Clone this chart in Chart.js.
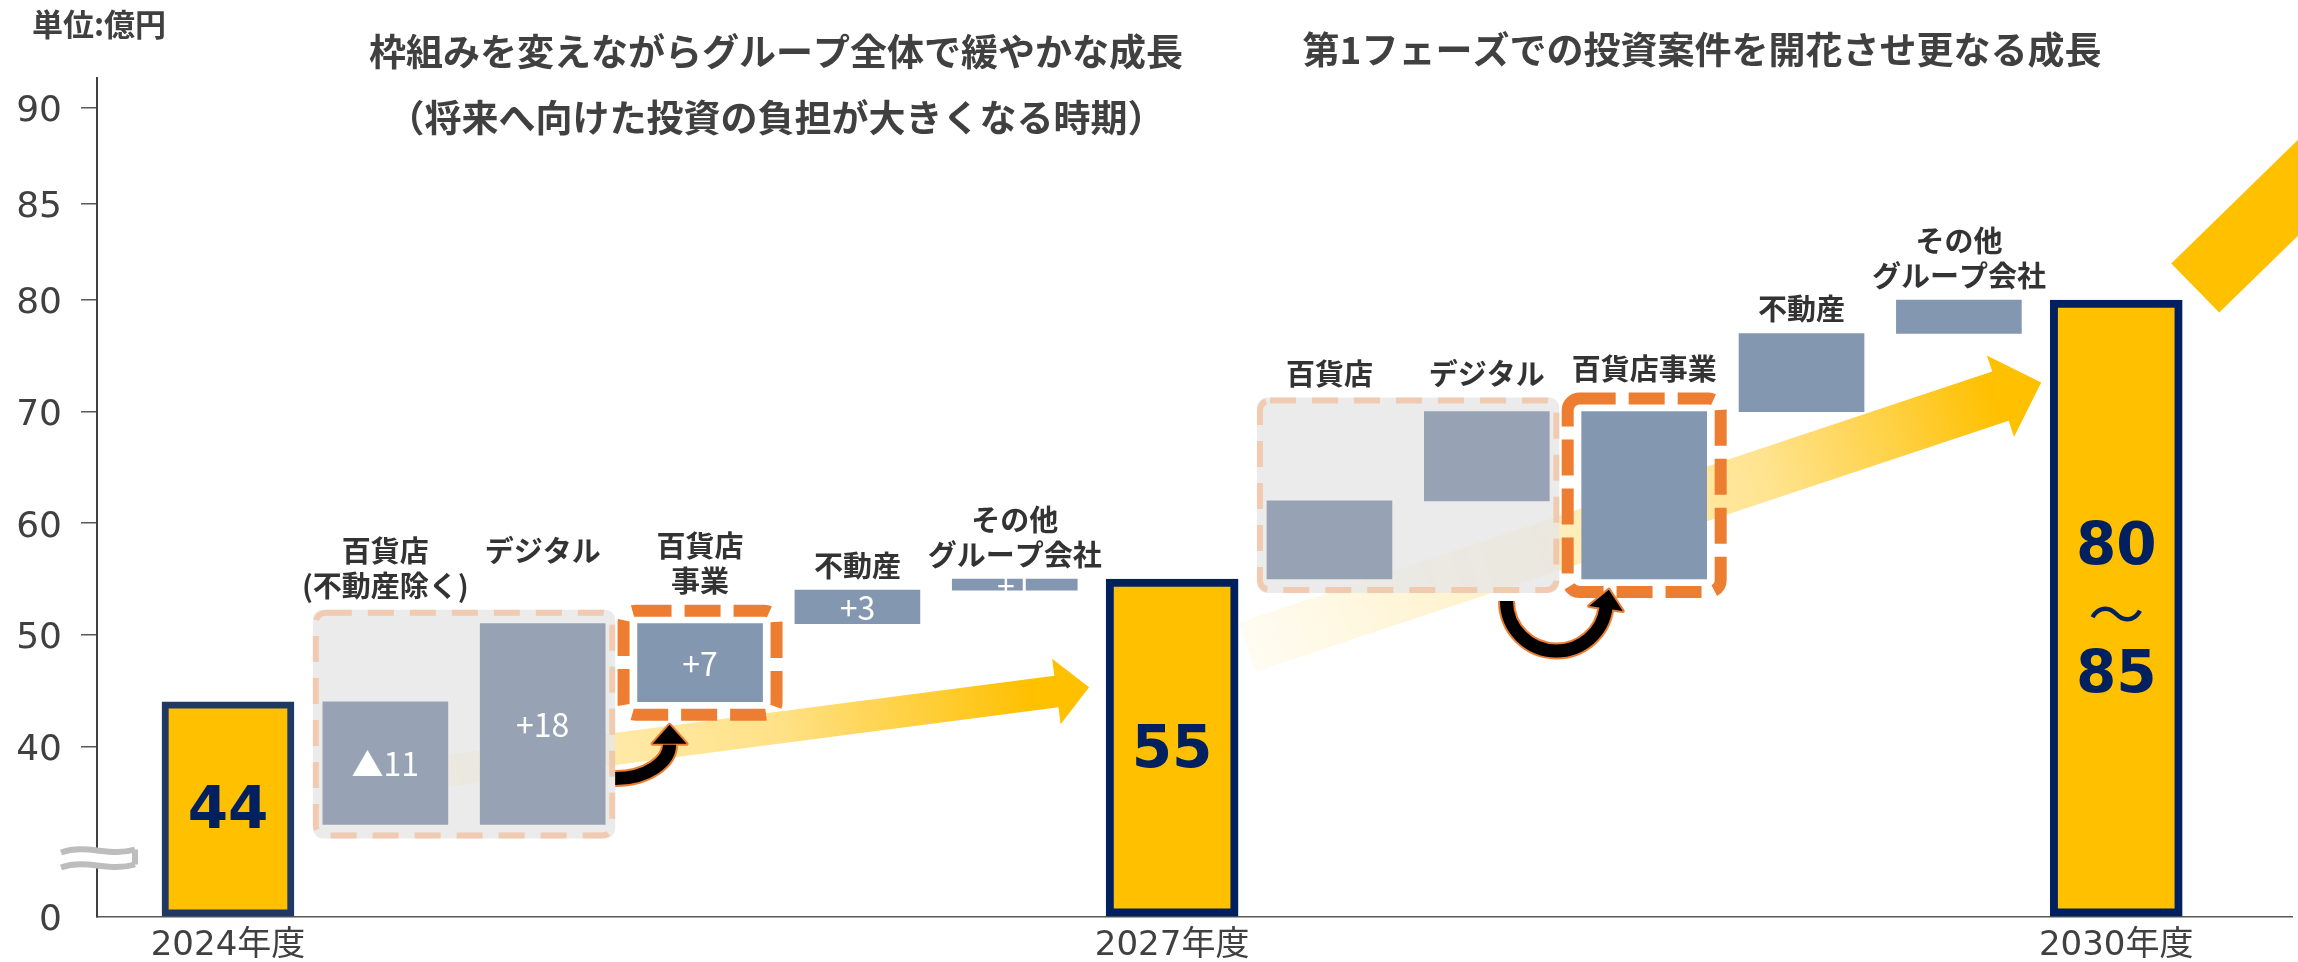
<!DOCTYPE html>
<html lang="ja">
<head>
<meta charset="utf-8">
<title>営業利益の成長イメージ</title>
<script src="https://cdn.jsdelivr.net/npm/chart.js@4.4.1/dist/chart.umd.min.js"></script>
<style>
  html, body { margin: 0; padding: 0; background: #ffffff; }
  #wrap { width: 2298px; height: 962px; }
  canvas { display: block; }
</style>
</head>
<body>
<div id="wrap"><canvas id="chart" width="2298" height="962"></canvas></div>
<script>
// ---------------- data (億円) ----------------
const YEARS = ['2024年度', '2027年度', '2030年度'];
const TOTALS = [44, 55, 80];
const TOTAL_LABELS = ['44', '55', '80～85'];

// 2024 → 2027
const PHASE1_NAMES = [['百貨店', '(不動産除く)'], ['デジタル'], ['百貨店', '事業'], ['不動産'], ['その他', 'グループ会社']];
const PHASE1_DEPT = [-11, 18];   // 百貨店(不動産除く), デジタル → 百貨店事業
const PHASE1_OTHER = [3, 1];     // 不動産, その他グループ会社

// 2027 → 2030
const PHASE2_NAMES = [['百貨店'], ['デジタル'], ['百貨店事業'], ['不動産'], ['その他', 'グループ会社']];
const PHASE2_DEPT = [7, 8];
const PHASE2_OTHER = [7, 3];

const Y_TICKS = [0, 40, 50, 60, 70, 80, 85, 90];

const TITLE_1 = ['枠組みを変えながらグループ全体で緩やかな成長', '（将来へ向けた投資の負担が大きくなる時期）'];
const TITLE_2 = ['第1フェーズでの投資案件を開花させ更なる成長'];
const UNIT = '単位:億円';

// ---------------- layout & style ----------------
const LAYOUT = {
  chartTop: 78, axisWidth: 97, xAxisHeight: 45, rightPad: 6,
  xMin: -0.8325, xMax: 13.117,
  totalBar: 132, stepBar: 125,
  titleX: [776, 1702], titleY: [[52, 118], [50]],
  labelGap: 24, lineH: 35
};
// broken value axis: [from, to, relative height]
const Y_SEGMENTS = [[0, 30, 59], [30, 80, 558], [80, 85, 96], [85, 90, 96], [90, 91.56, 30]];

const ORANGE = '#ED7D31';
const YELLOW = '#FFC000';
const NAVY = '#002060';
const TEXT = '#404040';
const JP = "'Noto Sans CJK JP', 'Noto Sans', sans-serif";
const NUM = "'DejaVu Sans', 'Noto Sans CJK JP', sans-serif";

// ---------------- waterfall construction ----------------
const PHASES = [
  { dept: PHASE1_DEPT, other: PHASE1_OTHER, names: PHASE1_NAMES, showValues: true },
  { dept: PHASE2_DEPT, other: PHASE2_OTHER, names: PHASE2_NAMES, showValues: false }
];
const totalPos = [];
const phaseSteps = [];
const allSteps = [];
let pos = 0;
TOTALS.forEach((total, k) => {
  totalPos.push(pos++);
  const ph = PHASES[k];
  if (!ph) return;
  const steps = [];
  let level = total;
  ph.dept.forEach((d, i) => {
    steps.push({ kind: 'part', from: level, to: level + d, delta: d, names: ph.names[i] });
    level += d;
  });
  const sub = ph.dept.reduce((a, b) => a + b, 0);
  steps.push({ kind: 'sub', from: total, to: total + sub, delta: sub, names: ph.names[ph.dept.length] });
  level = total + sub;
  ph.other.forEach((d, i) => {
    steps.push({ kind: 'other', from: level, to: level + d, delta: d, names: ph.names[ph.dept.length + 1 + i] });
    level += d;
  });
  steps.forEach(s => { s.x = pos++; s.order = allSteps.length; s.showValue = ph.showValues; allSteps.push(s); });
  phaseSteps.push(steps);
});

// ---------------- broken linear scale ----------------
class BrokenLinearScale extends Chart.LinearScale {
  static id = 'brokenLinear';
  _total() { return Y_SEGMENTS.reduce((s, g) => s + g[2], 0); }
  getPixelForValue(value) {
    if (value === null || value === undefined || isNaN(value)) return NaN;
    const total = this._total();
    let acc = 0, frac = 0;
    for (let i = 0; i < Y_SEGMENTS.length; i++) {
      const [lo, hi, w] = Y_SEGMENTS[i];
      if (value <= hi || i === Y_SEGMENTS.length - 1) { frac = (acc + w * (value - lo) / (hi - lo)) / total; break; }
      acc += w;
    }
    return this.bottom - frac * (this.bottom - this.top);
  }
  getValueForPixel(pixel) {
    let f = (this.bottom - pixel) / (this.bottom - this.top) * this._total();
    for (let i = 0; i < Y_SEGMENTS.length; i++) {
      const [lo, hi, w] = Y_SEGMENTS[i];
      if (f <= w || i === Y_SEGMENTS.length - 1) return lo + (hi - lo) * f / w;
      f -= w;
    }
  }
}
Chart.register(BrokenLinearScale);

// ---------------- drawing helpers ----------------
function rectOf(el) {
  const p = el.getProps(['x', 'y', 'base', 'width'], true);
  return { l: p.x - p.width / 2, r: p.x + p.width / 2, t: Math.min(p.y, p.base), b: Math.max(p.y, p.base), cx: p.x };
}
function union(rs, px, py) {
  return {
    l: Math.min(...rs.map(r => r.l)) - px, r: Math.max(...rs.map(r => r.r)) + px,
    t: Math.min(...rs.map(r => r.t)) - py, b: Math.max(...rs.map(r => r.b)) + py
  };
}
function geometry(chart) {
  const totals = chart.getDatasetMeta(0).data.map(rectOf);
  const stepRects = chart.getDatasetMeta(1).data.map(rectOf);
  const groups = phaseSteps.map(list => {
    const items = list.map(s => ({ s, rect: stepRects[s.order] }));
    const parts = items.filter(i => i.s.kind === 'part');
    const sub = items.find(i => i.s.kind === 'sub');
    return { items, parts, sub, peach: union(parts.map(p => p.rect), 10, 14), orange: union([sub.rect], 20, 19) };
  });
  return { totals, stepRects, groups };
}
function box(ctx, b, lw, stroke, dash, radius, fill) {
  ctx.save();
  ctx.beginPath();
  ctx.roundRect(b.l + lw / 2, b.t + lw / 2, b.r - b.l - lw, b.b - b.t - lw, radius);
  if (fill) { ctx.fillStyle = fill; ctx.fill(); }
  if (stroke) { ctx.setLineDash(dash); ctx.lineWidth = lw; ctx.strokeStyle = stroke; ctx.stroke(); }
  ctx.restore();
}
function gradientArrow(ctx, a, half, headHalf, headLen, stops) {
  const dx = a.x1 - a.x0, dy = a.y1 - a.y0, L = Math.hypot(dx, dy);
  const ux = dx / L, uy = dy / L, px = -uy, py = ux;
  const bx = a.x1 - ux * headLen, by = a.y1 - uy * headLen;
  const grad = ctx.createLinearGradient(a.x0, a.y0, a.x1, a.y1);
  stops.forEach(([t, al]) => grad.addColorStop(t, `rgba(255,192,0,${al})`));
  ctx.save();
  ctx.beginPath();
  ctx.moveTo(a.x0 + px * half, a.y0 + py * half);
  ctx.lineTo(bx + px * half, by + py * half);
  ctx.lineTo(bx + px * headHalf, by + py * headHalf);
  ctx.lineTo(a.x1, a.y1);
  ctx.lineTo(bx - px * headHalf, by - py * headHalf);
  ctx.lineTo(bx - px * half, by - py * half);
  ctx.lineTo(a.x0 - px * half, a.y0 - py * half);
  ctx.closePath();
  ctx.fillStyle = grad;
  ctx.fill();
  ctx.restore();
}
function outlinedArrow(ctx, buildPath, end, dir, shaft, headLen, headHalf) {
  const px = -dir.y, py = dir.x;
  const tip = { x: end.x + dir.x * headLen, y: end.y + dir.y * headLen };
  const head = () => {
    ctx.beginPath();
    ctx.moveTo(tip.x, tip.y);
    ctx.lineTo(end.x + px * headHalf, end.y + py * headHalf);
    ctx.lineTo(end.x - px * headHalf, end.y - py * headHalf);
    ctx.closePath();
  };
  ctx.save();
  ctx.lineCap = 'butt';
  buildPath(); ctx.lineWidth = shaft + 4; ctx.strokeStyle = ORANGE; ctx.stroke();
  head(); ctx.fillStyle = ORANGE; ctx.fill(); ctx.lineWidth = 4; ctx.lineJoin = 'round'; ctx.strokeStyle = ORANGE; ctx.stroke();
  buildPath(); ctx.lineWidth = shaft; ctx.strokeStyle = '#000'; ctx.stroke();
  head(); ctx.fillStyle = '#000'; ctx.fill();
  ctx.restore();
}
function drawAxisBreak(ctx, x, y) {
  const l = x - 36, r = x + 38, gap = 15;
  const wave = (yc) => {
    ctx.moveTo(l, yc + 2);
    ctx.bezierCurveTo(l + 26, yc - 7, l + 48, yc + 7, r, yc - 1);
  };
  ctx.save();
  ctx.beginPath();
  ctx.moveTo(l, y - gap / 2 + 2);
  ctx.bezierCurveTo(l + 26, y - gap / 2 - 7, l + 48, y - gap / 2 + 7, r, y - gap / 2 - 1);
  ctx.lineTo(r, y + gap / 2 - 1);
  ctx.bezierCurveTo(l + 48, y + gap / 2 + 7, l + 26, y + gap / 2 - 7, l, y + gap / 2 + 2);
  ctx.closePath();
  ctx.fillStyle = '#ffffff';
  ctx.fill();
  ctx.beginPath();
  wave(y - gap / 2);
  wave(y + gap / 2);
  ctx.moveTo(r, y - gap / 2 - 1);
  ctx.lineTo(r, y + gap / 2 - 1);
  ctx.strokeStyle = '#BDBDBD';
  ctx.lineWidth = 6;
  ctx.stroke();
  ctx.restore();
}

// ---------------- plugin: shapes and annotations ----------------
const decorPlugin = {
  id: 'decor',
  beforeDatasetsDraw(chart) {
    const { ctx } = chart;
    const ys = chart.scales.y;
    const g = geometry(chart);
    const [, t1, t2] = g.totals;
    // growth arrows behind the bars
    gradientArrow(ctx, {
      x0: g.stepRects[phaseSteps[0][0].order].cx, y0: ys.getPixelForValue(37.1),
      x1: t1.l - 17, y1: ys.getPixelForValue(45.3)
    }, 16, 33, 33, [[0, 0.15], [0.24, 0.3], [0.56, 0.47], [0.8, 0.82], [0.92, 1]]);
    gradientArrow(ctx, {
      x0: t1.r + 9, y0: ys.getPixelForValue(48.9),
      x1: t2.l - 9, y1: ys.getPixelForValue(72.6)
    }, 26, 43, 43, [[0, 0.05], [0.37, 0.25], [0.65, 0.43], [0.82, 0.75], [0.94, 1]]);
    // grey panels around the department-store components
    g.groups.forEach(gr => box(ctx, gr.peach, 0, null, null, 10, 'rgba(230,230,230,0.8)'));
  },
  afterDatasetsDraw(chart) {
    const { ctx } = chart;
    const g = geometry(chart);
    g.groups.forEach(gr => {
      box(ctx, gr.peach, 6, 'rgba(244,177,131,0.55)', [26, 16], 10, null);
      box(ctx, gr.orange, 12, ORANGE, [36, 13], 12, null);
    });

    // bent arrow: components → 百貨店事業 (phase 1)
    const A = g.groups[0];
    const s = { x: A.peach.r, y: A.peach.b - 60 };
    const tipA = { x: A.orange.l + 52, y: A.orange.b + 4 };
    const endA = { x: tipA.x, y: tipA.y + 19 };
    outlinedArrow(ctx, () => {
      ctx.beginPath();
      ctx.moveTo(s.x, s.y);
      ctx.bezierCurveTo(s.x + (endA.x - s.x) * 0.6, s.y, endA.x, endA.y + (s.y - endA.y) * 0.5, endA.x, endA.y + 1);
    }, endA, { x: 0, y: -1 }, 13, 19, 17);

    // U-turn arrow: components → 百貨店事業 (phase 2)
    const B = g.groups[1];
    const c = { x: (B.peach.r + B.orange.l) / 2 - 4, y: B.peach.b + 8 };
    const rad = 50, endAng = 0.15;
    const endB = { x: c.x + rad * Math.cos(endAng), y: c.y + rad * Math.sin(endAng) };
    outlinedArrow(ctx, () => {
      ctx.beginPath();
      ctx.arc(c.x, c.y, rad, Math.PI, endAng - 0.02, true);
    }, endB, { x: Math.sin(endAng), y: -Math.cos(endAng) }, 13, 19, 17);

    // arrow leaving the 2030 bar
    const t2 = g.totals[2];
    const o = { x: t2.r + 13, y: t2.t - 12 };
    const ang = 44.3 * Math.PI / 180;
    const d = { x: Math.cos(ang), y: -Math.sin(ang) }, p = { x: -d.y, y: d.x }, half = 34.4, len = 420;
    ctx.save();
    ctx.beginPath();
    ctx.moveTo(o.x + p.x * half, o.y + p.y * half);
    ctx.lineTo(o.x - p.x * half, o.y - p.y * half);
    ctx.lineTo(o.x - p.x * half + d.x * len, o.y - p.y * half + d.y * len);
    ctx.lineTo(o.x + p.x * half + d.x * len, o.y + p.y * half + d.y * len);
    ctx.closePath();
    ctx.fillStyle = YELLOW;
    ctx.fill();
    ctx.restore();

    ctx.save();
    ctx.textAlign = 'center';
    ctx.textBaseline = 'middle';
    // values inside step bars
    ctx.font = `32px ${JP}`;
    ctx.fillStyle = '#ffffff';
    allSteps.forEach(st => {
      if (!st.showValue) return;
      const r = g.stepRects[st.order];
      ctx.fillText((st.delta < 0 ? '▲' : '+') + Math.abs(st.delta), r.cx, (r.t + r.b) / 2 + 1);
    });
    // step names
    ctx.font = `bold 29px ${JP}`;
    ctx.fillStyle = '#333333';
    g.groups.forEach(gr => {
      const maxPart = Math.max(...gr.parts.map(p => p.s.names.length));
      gr.items.forEach(({ s: st, rect }) => {
        let anchor, n;
        if (st.kind === 'part') { anchor = gr.peach.t; n = maxPart; }
        else if (st.kind === 'sub') { anchor = gr.orange.t; n = st.names.length; }
        else { anchor = rect.t; n = st.names.length; }
        const y0 = anchor - LAYOUT.labelGap - (n - 1) * LAYOUT.lineH;
        st.names.forEach((ln, i) => ctx.fillText(ln, rect.cx, y0 + i * LAYOUT.lineH));
      });
    });
    // totals
    ctx.fillStyle = NAVY;
    g.totals.forEach((r, k) => {
      const cy = (r.t + r.b) / 2 + 4;
      const parts = TOTAL_LABELS[k].split('～');
      ctx.font = `bold 58px ${NUM}`;
      if (parts.length === 1) {
        ctx.fillText(parts[0], r.cx, cy);
      } else {
        ctx.fillText(parts[0], r.cx, cy - 63);
        ctx.fillText(parts[1], r.cx, cy + 65);
        ctx.font = `56px ${JP}`;
        ctx.fillText('～', r.cx, cy + 2);
      }
    });
    ctx.restore();
  },
  afterDraw(chart) {
    const { ctx } = chart;
    ctx.save();
    ctx.fillStyle = TEXT;
    ctx.textBaseline = 'middle';
    ctx.textAlign = 'center';
    ctx.font = `bold 37px ${JP}`;
    [TITLE_1, TITLE_2].forEach((lines, k) => {
      lines.forEach((ln, i) => ctx.fillText(ln, LAYOUT.titleX[k], LAYOUT.titleY[k][i]));
    });
    ctx.textAlign = 'left';
    ctx.font = `bold 31px ${JP}`;
    ctx.fillText(UNIT, 32, 24);
    ctx.restore();
    drawAxisBreak(ctx, chart.chartArea.left, chart.scales.y.getPixelForValue(30));
  }
};

// ---------------- chart ----------------
new Chart(document.getElementById('chart'), {
  type: 'bar',
  data: {
    datasets: [
      {
        label: '合計',
        data: TOTALS.map((v, k) => ({ x: totalPos[k], y: [0, v] })),
        backgroundColor: YELLOW,
        borderColor: ['#1F3864', NAVY, NAVY],
        borderWidth: [7, 8, 8],
        borderSkipped: false,
        barThickness: LAYOUT.totalBar,
        grouped: false
      },
      {
        label: '増減',
        data: allSteps.map(s => ({ x: s.x, y: [s.from, s.to] })),
        backgroundColor: allSteps.map(s => s.kind === 'part' ? '#97A3B4' : '#8497B0'),
        borderWidth: 0,
        barThickness: LAYOUT.stepBar,
        grouped: false
      }
    ]
  },
  options: {
    responsive: false,
    devicePixelRatio: 1,
    animation: false,
    events: [],
    layout: { padding: { top: LAYOUT.chartTop, right: LAYOUT.rightPad, bottom: 0, left: 0 } },
    plugins: { legend: { display: false }, tooltip: { enabled: false }, title: { display: false } },
    scales: {
      x: {
        type: 'linear', min: LAYOUT.xMin, max: LAYOUT.xMax, offset: false, bounds: 'data',
        afterBuildTicks: s => { s.ticks = totalPos.map(v => ({ value: v })); },
        afterFit: s => { s.height = LAYOUT.xAxisHeight; },
        ticks: {
          autoSkip: false, maxRotation: 0, padding: 9, color: TEXT,
          font: { family: NUM, size: 34 },
          callback: v => { const k = totalPos.indexOf(v); return k >= 0 ? YEARS[k] : ''; }
        },
        grid: { display: true, drawOnChartArea: false, drawTicks: false },
        border: { display: true, color: '#595959', width: 1.5 }
      },
      y: {
        type: 'brokenLinear', min: 0, max: Y_SEGMENTS[Y_SEGMENTS.length - 1][1], bounds: 'data',
        afterBuildTicks: s => { s.ticks = Y_TICKS.map(v => ({ value: v })); },
        afterFit: s => { s.width = LAYOUT.axisWidth; },
        ticks: {
          autoSkip: false, padding: 19, labelOffset: 4, color: TEXT,
          font: { family: NUM, size: 36 },
          callback: v => String(v)
        },
        grid: {
          drawOnChartArea: false, drawTicks: true, tickLength: 16, lineWidth: 1.5,
          color: c => (c.tick && c.tick.value === 0) ? 'rgba(0,0,0,0)' : '#595959'
        },
        border: { display: true, color: '#404040', width: 2 }
      }
    }
  },
  plugins: [decorPlugin]
});
</script>
</body>
</html>
